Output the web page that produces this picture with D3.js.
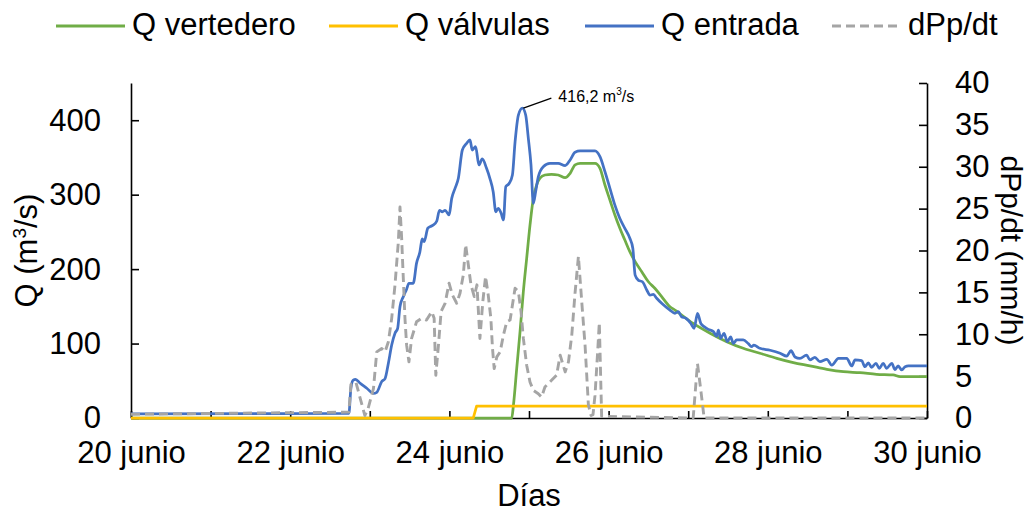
<!DOCTYPE html>
<html>
<head>
<meta charset="utf-8">
<script src="https://cdn.jsdelivr.net/npm/d3@7"></script>
<style>
  html, body { margin: 0; padding: 0; background: #fff; }
  svg { display: block; }
  text { font-family: "Liberation Sans", Arial, sans-serif; fill: #000; }
</style>
</head>
<body>
<svg id="chart" width="1031" height="514"></svg>
<script>
// ---- data (hours since 20 junio 00:00) ----
const hoursE = [0,36,65.7,66.3,67,67.7,69,71.1,73.1,74.1,
  75.6,76.6,77.6,78.6,79.6,80.4,81.1,82.1,83.1,83.8,
  85.1,86.1,87.1,87.8,88.4,89.5,90.2,91.1,92.2,93,
  93.9,94.7,95.9,96.7,97.7,98.7,99.9,101.2,102.2,102.9,
  103.9,104.9,105.9,107.2,108.2,109.2,110,110.7,111.6,112.3,
  113,114,115,115.8,116.8,118,119,119.8,120.6,121.3,
  122,122.8,124.3,126.3,128.8,130.9,132.4,133.9,135.4,139.9,
  141.4,142.9,144.4,145.9,147.4,148.9,150.4,151.3,152,153,
  154.2,155.5,156.5,157.5,158.5,160,162.5,164,165,166,
  167.3,168.8,169.8,170.8,171.8,172.8,174.1,175.6,176.6,177.1,
  177.8,178.8,179.8,180.8,181.6,182.6,184.6,186.1,187.1,187.8,
  189.6,192.7,195.7,197.7,199,200.2,201.7,203.7,204.7,206.2,
  207.7,209.8,211.3,213.3,215.8,217.3,218.3,220.3,221.3,222.3,
  223.3,224.6,225.6,226.8,227.8,229.4,230.3,231.3,232.4,233.4,
  234.4,240];
const qEntrada = [5.4,5.8,6.3,40,51,52,47,40,33,34.5,
  49,53,73.5,98,114,120.5,149.5,163,173,181,
  181,208,223,240.5,237,255,257,259,264.6,279,
  277,279,272.7,295,308.5,322,360,369,373.5,360,
  364.5,340,348,335.4,322,304,277,281.7,275,266,
  310.7,315,326.4,371,407,416.2,407,375.7,340,288.4,
  304,324,337.6,342,342,339,346.6,357,358.7,358.7,
  351,331,308.5,286,268,254.8,241.4,228,192,185,
  183,172,165,166,160.8,154,145,140.6,142.8,136,
  134,127,120.5,140.6,127,122.7,119,116,110,118,
  107,113.8,102.5,109,100,104.8,104.8,100,95.8,98,
  93.6,91,87,83,90.4,82,80,84.6,78,81.5,
  75.6,78.8,71,80,80,70,78,77,69,74,
  68,73.5,66.8,73.5,66.8,73.5,65,70,64.5,69,
  70,70];

const hoursV = [0,114.8,115.3,116.3,117.3,118.3,119.3,120.3,121.3,122.3,
  123.3,124.8,126.8,128.8,130.9,132.4,133.9,135.4,139.9,141.4,
  142.9,144.4,145.9,147.4,148.9,150.4,152,154,156,158,
  160,162.5,164,169.5,174.6,179.6,184.6,189.6,194.7,199.7,
  204.7,209.8,214.8,219.8,224.8,229.8,231.9,240];
const qVertedero = [0,0,17,66.8,116,170,214.5,259,295,313,
  322,326.4,327.4,326.4,322.8,328.7,340,342,342,335.4,
  313,292.8,272.7,254.8,239,223.4,210,196.5,183,174,
  163,149.5,145,127,113.8,102.5,93.6,87,80,74.3,
  70,65.4,62.2,60.9,58.7,57.8,55.5,55.5];

const hoursVal = [0,103.2,104.2,240];
const qValvulas = [0,0,16,16];

const hoursP = [0,39,65.7,66.3,67.8,69,70.5,71.4,73.1,74.1,
  75.6,76.6,77.6,78.6,79.6,80.6,81.1,81.6,82.1,82.6,
  83.1,83.8,84.6,86.1,87.6,89.1,90.7,91.4,91.9,92.7,
  93.5,94.7,95.9,96.9,98.2,99.2,100.2,100.9,101.7,102.5,
  103.5,104.3,105.2,106.1,106.9,107.7,108.5,109,109.5,110.3,
  111.3,112.3,113.3,114.3,115.8,116.8,117.6,118.3,119.3,120.3,
  121.3,122.8,123.8,124.8,126.8,128.3,129.4,130.9,131.9,132.9,
  133.9,134.9,135.9,136.9,137.9,138.7,139.3,139.9,140.7,141.2,
  141.9,169.5,170.8,171.9,172.8,240];
const dPpdt = [0.45,0.6,0.7,4.0,4.3,2.5,0.3,1.0,3.5,7.9,
  8.3,7.9,9.1,11.9,15.9,21,25.2,21.5,16.7,11.9,
  8.7,6.7,9.5,11.5,11.9,11.7,12.7,11.9,5.1,8.7,
  12.7,13.7,16.1,14.7,13.7,14.9,17.1,20.7,18.3,15.9,
  14.5,15.9,9.5,14,16.9,14.7,11.9,8.3,5.9,7.3,
  7.9,9.9,11.5,11.7,15.5,15.1,12.7,9.5,6.3,4.3,
  3.3,2.9,2.5,3.7,4.5,5.1,7.5,5.5,6.7,9.9,
  15,19.3,13.9,8.7,1.6,0.3,0.4,2.7,7.9,11.4,
  0.2,0,6.5,3,0,0];

const dayTicks = [0,24,48,72,96,120,144,168,192,216,240];
const dayLabels = ["20 junio","","22 junio","","24 junio","","26 junio","","28 junio","","30 junio"];
const qTicks = [0,100,200,300,400];
const pTicks = [0,5,10,15,20,25,30,35,40];
const seriesNames = ["Q vertedero","Q válvulas","Q entrada","dPp/dt"];
const peakLabel = "416,2 m";

// ---- layout ----
const svg = d3.select("#chart");
const L = 131, R = 927, T = 83, B = 418;
const x = d3.scaleLinear().domain([0,240]).range([L,R]);
const yL = d3.scaleLinear().domain([0,450]).range([B,T]);
const yR = d3.scaleLinear().domain([0,40]).range([B,T]);
const FS = 31;

svg.append("rect").attr("width",1031).attr("height",514).attr("fill","#fff");

function styleAxis(g){
  g.selectAll("path.domain").attr("stroke","#000").attr("stroke-width",1.6);
  g.selectAll(".tick line").attr("stroke","#000").attr("stroke-width",1.6);
  g.selectAll("text").attr("font-size",FS).attr("font-family",'"Liberation Sans", Arial, sans-serif').attr("fill","#000");
}

svg.append("g").attr("transform",`translate(0,${B})`)
  .call(d3.axisBottom(x).tickValues(dayTicks).tickSizeInner(-7).tickSizeOuter(0).tickPadding(23)
    .tickFormat((d,i)=>dayLabels[i]))
  .call(styleAxis);
svg.append("g").attr("transform",`translate(${L},0)`)
  .call(d3.axisLeft(yL).tickValues(qTicks).tickSizeInner(-8).tickSizeOuter(0).tickPadding(30))
  .call(styleAxis);
svg.append("g").attr("transform",`translate(${R},0)`)
  .call(d3.axisRight(yR).tickValues(pTicks).tickSizeInner(-8).tickSizeOuter(0).tickPadding(28))
  .call(styleAxis);

// ---- lines ----
const lineL = (hs, vs, curve) => d3.line().x((d,i)=>x(hs[i])).y(d=>yL(d)).curve(curve)(vs);
const lineR = (hs, vs, curve) => d3.line().x((d,i)=>x(hs[i])).y(d=>yR(d)).curve(curve)(vs);

svg.append("path").attr("d",lineL(hoursV,qVertedero,d3.curveMonotoneX))
  .attr("fill","none").attr("stroke","#70AD47").attr("stroke-width",2.75).attr("stroke-linejoin","round");
svg.append("path").attr("d",lineL(hoursVal,qValvulas,d3.curveLinear))
  .attr("fill","none").attr("stroke","#FFC000").attr("stroke-width",2.75).attr("stroke-linejoin","round");
svg.append("path").attr("d",lineL(hoursE,qEntrada,d3.curveMonotoneX))
  .attr("fill","none").attr("stroke","#4472C4").attr("stroke-width",2.75).attr("stroke-linejoin","round");
svg.append("path").attr("d",lineR(hoursP,dPpdt,d3.curveLinear))
  .attr("fill","none").attr("stroke","#A5A5A5").attr("stroke-width",2.9)
  .attr("stroke-dasharray","9,5").attr("stroke-linejoin","round");

// ---- peak annotation ----
const iPeak = qEntrada.indexOf(d3.max(qEntrada));
const px = x(hoursE[iPeak]), py = yL(qEntrada[iPeak]);
svg.append("line").attr("x1",px+1).attr("y1",py).attr("x2",px+29).attr("y2",py-10)
  .attr("stroke","#000").attr("stroke-width",1.3);
const at = svg.append("text").attr("x",px+36).attr("y",py-6).attr("font-size",16);
at.append("tspan").text(peakLabel);
at.append("tspan").attr("font-size",10).attr("dy",-7).text("3");
at.append("tspan").attr("dy",7).text("/s");

// ---- axis titles ----
svg.append("text").attr("x",(L+R)/2).attr("y",506).attr("text-anchor","middle").attr("font-size",FS).text("Días");
const lt = svg.append("text").attr("transform",`translate(37,${(T+B)/2}) rotate(-90)`)
  .attr("text-anchor","middle").attr("font-size",FS);
lt.append("tspan").text("Q (m");
lt.append("tspan").attr("font-size",19).attr("dy",-11).text("3");
lt.append("tspan").attr("dy",11).text("/s)");
svg.append("text").attr("transform",`translate(1001,${(T+B)/2}) rotate(90)`)
  .attr("text-anchor","middle").attr("font-size",30).text("dPp/dt (mm/h)");

// ---- legend ----
const legendX = [56, 329, 585, 832];
const legendColors = ["#70AD47","#FFC000","#4472C4","#A5A5A5"];
seriesNames.forEach((name,i)=>{
  svg.append("line").attr("x1",legendX[i]).attr("x2",legendX[i]+69).attr("y1",26).attr("y2",26)
    .attr("stroke",legendColors[i]).attr("stroke-width",3)
    .attr("stroke-dasharray", i===3 ? "9,5" : null);
  svg.append("text").attr("x",legendX[i]+76).attr("y",35).attr("font-size",FS).text(name);
});
</script>
</body>
</html>
